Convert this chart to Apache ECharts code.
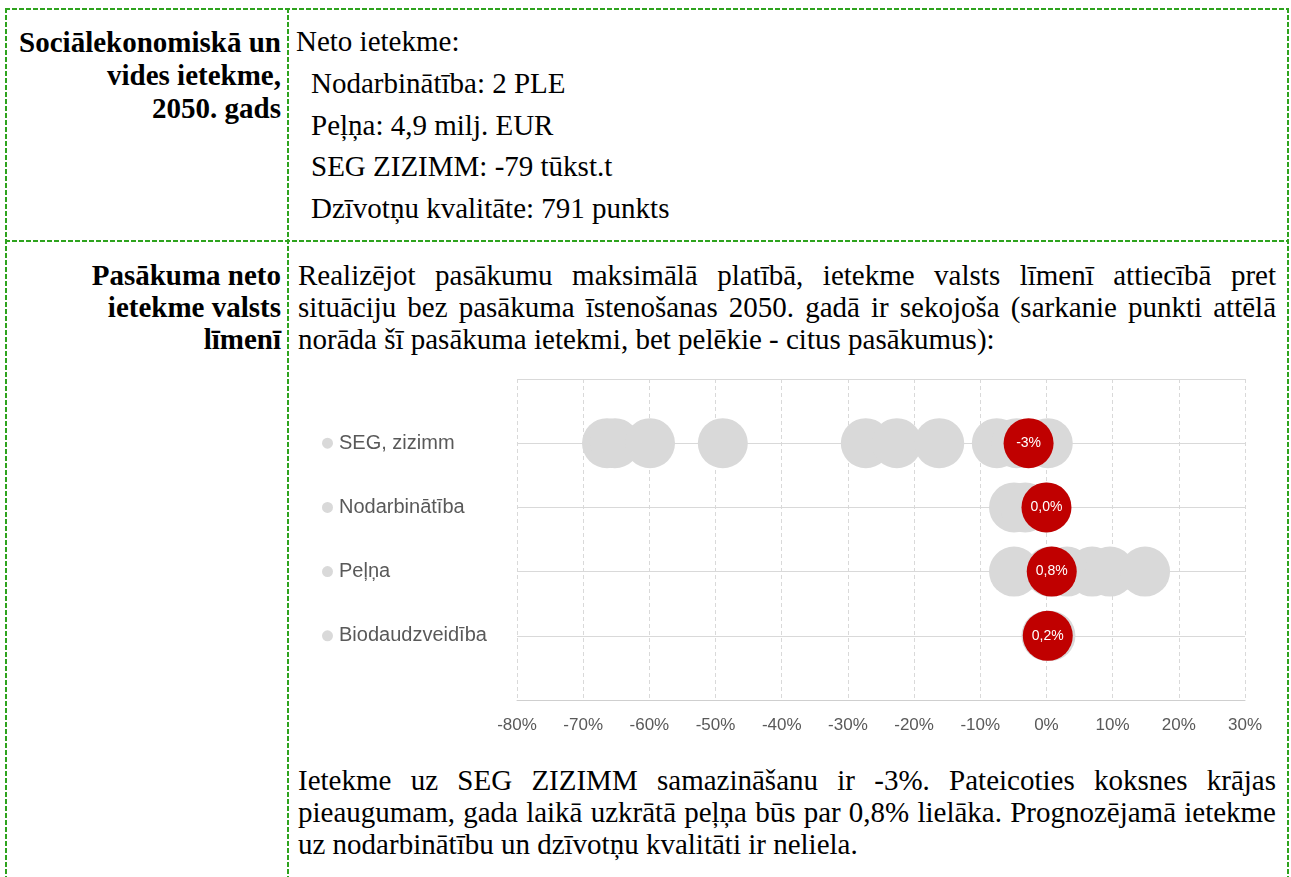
<!DOCTYPE html>
<html>
<head>
<meta charset="utf-8">
<script src="https://cdn.jsdelivr.net/npm/echarts@6/dist/echarts.min.js"></script>
<style>
  html, body { margin: 0; padding: 0; background: #fff; }
  body { width: 1291px; height: 877px; position: relative; overflow: hidden; font-family: 'Liberation Serif', 'Times New Roman', serif; color: #000; }
  .hb { position: absolute; height: 2px; background: repeating-linear-gradient(to right, #2ea31e 0 5px, transparent 5px 7px); }
  .vb { position: absolute; width: 2px; background: repeating-linear-gradient(to bottom, #2ea31e 0 5px, transparent 5px 7px); }
  .head { position: absolute; left: 0; width: 281px; text-align: right; font-weight: bold; font-size: 29px; white-space: nowrap; }
  .txt { position: absolute; white-space: nowrap; }
  .big { font-size: 29px; line-height: 41.5px; }
  .small { left: 298px; width: 978px; font-size: 29px; line-height: 32px; }
  .small div.j { text-align: justify; text-align-last: justify; }
  #chart { position: absolute; left: 297px; top: 360px; width: 990px; height: 400px; }
</style>
</head>
<body>
<!-- tabulas apmales -->
<div class="hb" style="left:5px; top:8px; width:1284px;"></div>
<div class="hb" style="left:5px; top:240px; width:1284px;"></div>
<div class="vb" style="left:5px; top:8px; height:869px;"></div>
<div class="vb" style="left:287px; top:8px; height:869px;"></div>
<div class="vb" style="left:1287px; top:8px; height:869px;"></div>

<!-- 1. rinda -->
<div class="head" style="top:26px; line-height:33px;">Sociālekonomiskā un<br>vides ietekme,<br>2050. gads</div>
<div class="txt big" style="left:296px; top:21px;">Neto ietekme:</div>
<div class="txt big" style="left:311px; top:63px;">Nodarbinātība: 2 PLE<br>Peļņa: 4,9 milj. EUR<br>SEG ZIZIMM: -79 tūkst.t<br>Dzīvotņu kvalitāte: 791 punkts</div>

<!-- 2. rinda -->
<div class="head" style="top:259px; line-height:32px;">Pasākuma neto<br>ietekme valsts<br>līmenī</div>
<div class="txt small" style="top:259px;">
  <div class="j">Realizējot pasākumu maksimālā platībā, ietekme valsts līmenī attiecībā pret</div>
  <div class="j">situāciju bez pasākuma īstenošanas 2050. gadā ir sekojoša (sarkanie punkti attēlā</div>
  <div>norāda šī pasākuma ietekmi, bet pelēkie - citus pasākumus):</div>
</div>

<div id="chart"></div>

<div class="txt small" style="top:764px;">
  <div class="j">Ietekme uz SEG ZIZIMM samazināšanu ir -3%. Pateicoties koksnes krājas</div>
  <div class="j">pieaugumam, gada laikā uzkrātā peļņa būs par 0,8% lielāka. Prognozējamā ietekme</div>
  <div>uz nodarbinātību un dzīvotņu kvalitāti ir neliela.</div>
</div>

<script>
// rādītāji (no augšas uz leju)
var categories = ['SEG, zizimm', 'Nodarbinātība', 'Peļņa', 'Biodaudzveidība'];

// citu pasākumu ietekme, % (pelēkie punkti)
var otherSeg = [-66.4, -65.2, -59.9, -48.9, -27.3, -22.6, -16.2, -7.5, -4.5, 0.2];
var otherJobs = [-4.9, -3.2, 0.0];
var otherProfit = [-4.9, 0.5, 3.1, 6.9, 9.6, 14.9];
var otherBio = [0.0, 0.6];

// šī pasākuma ietekme, % (sarkanie punkti)
var thisMeasure = [-2.7, 0.0, 0.8, 0.2];
var thisLabels = ['-3%', '0,0%', '0,8%', '0,2%'];

// x ass
var xMin = -80, xMax = 30, xStep = 10;

var sans = "'Liberation Sans', Arial, sans-serif";
var others = [otherSeg, otherJobs, otherProfit, otherBio];
var n = categories.length;

var grayData = [];
others.forEach(function (arr, i) {
    arr.forEach(function (v) { grayData.push([v, n - i]); });
});
var redData = thisMeasure.map(function (v, i) { return [v, n - i]; });

var chart = echarts.init(document.getElementById('chart'));

var option = {
    animation: false,
    grid: { left: 220, right: 42, top: 19, bottom: 60 },
    xAxis: {
        type: 'value',
        min: xMin,
        max: xMax,
        interval: xStep,
        axisLine: { show: true, lineStyle: { color: '#cfcfcf', width: 1 } },
        axisTick: { show: false },
        axisLabel: {
            margin: 17,
            color: '#595959',
            fontFamily: sans,
            fontSize: 17,
            formatter: function (v) { return v + '%'; }
        },
        splitLine: { show: true, lineStyle: { color: '#d9d9d9', type: [4, 3], width: 1 } }
    },
    yAxis: {
        type: 'value',
        min: 0,
        max: n + 1,
        interval: 1,
        axisLine: { show: false },
        axisTick: { show: false },
        axisLabel: {
            align: 'left',
            margin: 195,
            formatter: function (v) {
                if (v < 1 || v > n) return '';
                return '{dot|}{t|' + categories[n - v] + '}';
            },
            rich: {
                dot: { width: 11, height: 11, borderRadius: 6, backgroundColor: '#d9d9d9' },
                t: { color: '#595959', fontFamily: sans, fontSize: 20, padding: [0, 0, 0, 6] }
            }
        },
        splitLine: { show: true, lineStyle: { color: '#d9d9d9', width: 1 } }
    },
    series: [
        {
            name: 'Citi pasākumi',
            type: 'scatter',
            symbolSize: 50,
            itemStyle: { color: '#d9d9d9', opacity: 1 },
            data: grayData
        },
        {
            name: 'Šis pasākums',
            type: 'scatter',
            symbolSize: 50,
            z: 3,
            itemStyle: { color: '#c00000', opacity: 1 },
            label: {
                show: true,
                position: 'inside',
                color: '#fff',
                fontFamily: sans,
                fontSize: 14,
                formatter: function (p) { return thisLabels[p.dataIndex]; }
            },
            data: redData
        }
    ]
};

chart.setOption(option);
</script>
</body>
</html>
